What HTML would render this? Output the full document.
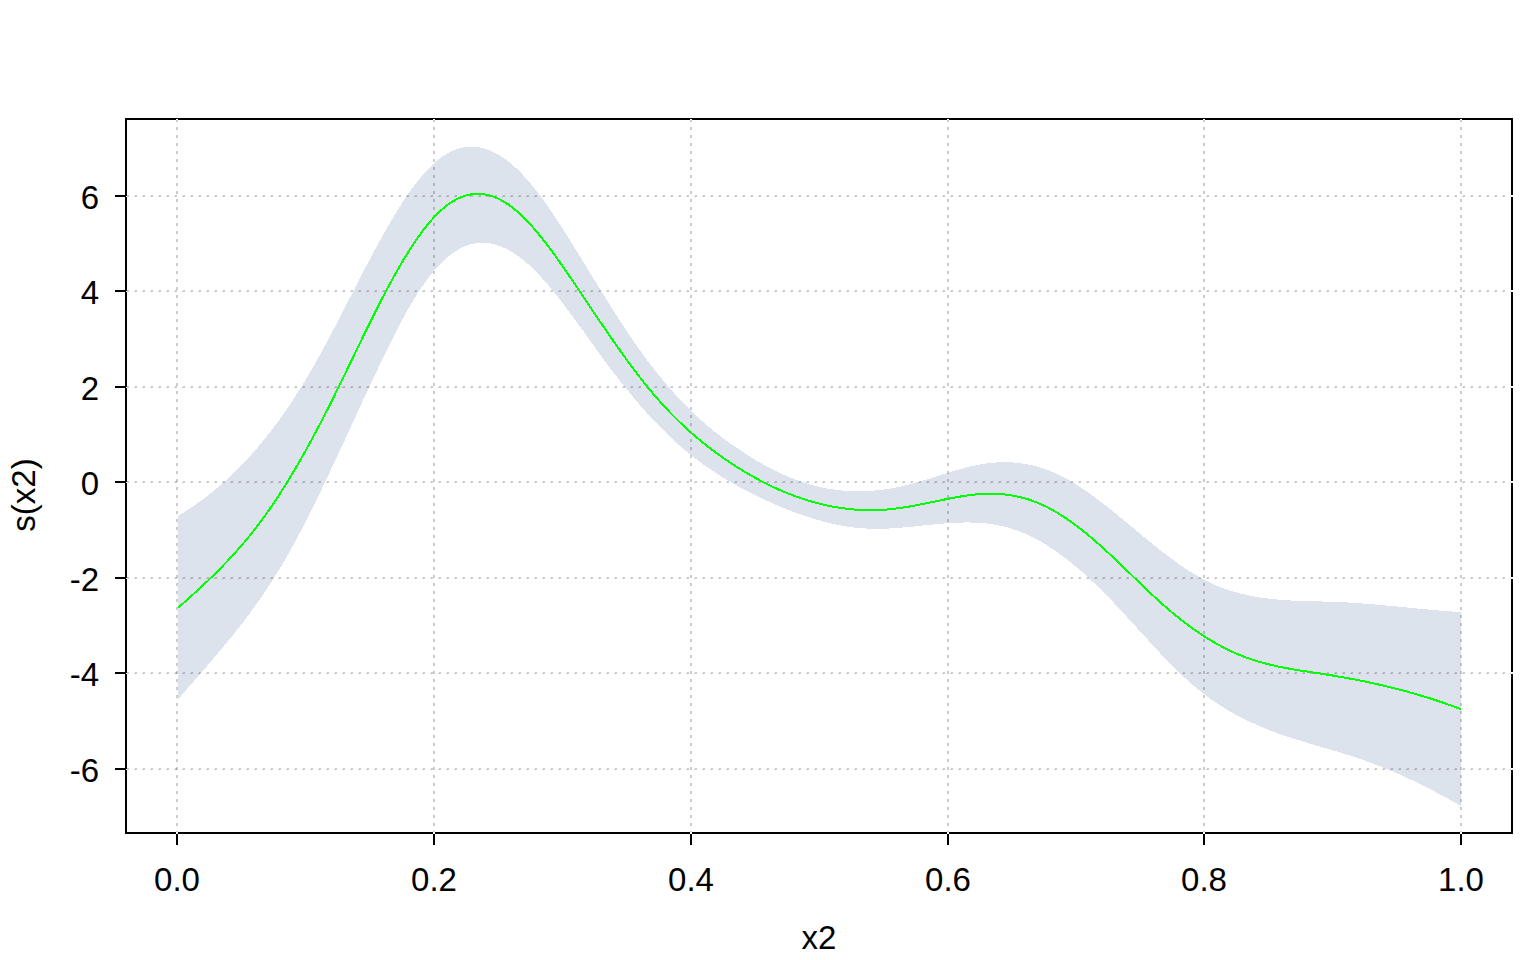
<!DOCTYPE html>
<html><head><meta charset="utf-8"><title>s(x2)</title>
<style>
html,body{margin:0;padding:0;background:#fff;}
svg{display:block;}
text{font-family:"Liberation Sans",sans-serif;font-size:33px;fill:#000;}
</style></head><body>
<svg width="1536" height="960" viewBox="0 0 1536 960">
<rect width="1536" height="960" fill="#fff"/>
<polygon points="178,516 181,514.16 184,512.29 187,510.36 190,508.38 193,506.35 196,504.26 199,502.12 202,499.93 205,497.67 208,495.36 211,492.99 214,490.56 217,488.06 220,485.5 223,482.88 226,480.19 229,477.43 232,474.6 235,471.7 238,468.73 241,465.69 244,462.57 247,459.37 250,456.1 253,452.75 256,449.32 259,445.81 262,442.21 265,438.53 268,434.77 271,430.92 274,426.98 277,422.95 280,418.83 283,414.62 286,410.32 289,405.92 292,401.43 295,396.84 298,392.15 301,387.36 304,382.47 307,377.48 310,372.38 313,367.18 316,361.88 319,356.49 322,351.02 325,345.48 328,339.87 331,334.21 334,328.49 337,322.74 340,316.95 343,311.13 346,305.3 349,299.46 352,293.61 355,287.77 358,281.95 361,276.14 364,270.37 367,264.64 370,258.95 373,253.31 376,247.74 379,242.23 382,236.81 385,231.47 388,226.22 391,221.07 394,216.04 397,211.12 400,206.33 403,201.67 406,197.15 409,192.78 412,188.57 415,184.52 418,180.65 421,176.95 424,173.45 427,170.14 430,167.04 433,164.15 436,161.48 439,159.04 442,156.83 445,154.83 448,153.06 451,151.51 454,150.18 457,149.07 460,148.16 463,147.47 466,146.99 469,146.72 472,146.65 475,146.79 478,147.13 481,147.66 484,148.4 487,149.33 490,150.45 493,151.76 496,153.27 499,154.96 502,156.83 505,158.89 508,161.13 511,163.55 514,166.15 517,168.92 520,171.86 523,174.97 526,178.25 529,181.69 532,185.28 535,189.01 538,192.87 541,196.86 544,200.97 547,205.19 550,209.51 553,213.92 556,218.41 559,222.99 562,227.63 565,232.34 568,237.09 571,241.89 574,246.73 577,251.6 580,256.49 583,261.39 586,266.29 589,271.2 592,276.1 595,281 598,285.88 601,290.75 604,295.59 607,300.41 610,305.2 613,309.95 616,314.66 619,319.33 622,323.95 625,328.51 628,333.02 631,337.46 634,341.83 637,346.14 640,350.37 643,354.52 646,358.6 649,362.6 652,366.53 655,370.38 658,374.16 661,377.86 664,381.49 667,385.05 670,388.52 673,391.93 676,395.26 679,398.51 682,401.69 685,404.79 688,407.82 691,410.78 694,413.66 697,416.47 700,419.21 703,421.89 706,424.5 709,427.05 712,429.54 715,431.97 718,434.34 721,436.66 724,438.92 727,441.13 730,443.3 733,445.41 736,447.48 739,449.51 742,451.5 745,453.45 748,455.35 751,457.22 754,459.05 757,460.83 760,462.56 763,464.26 766,465.91 769,467.51 772,469.07 775,470.58 778,472.04 781,473.45 784,474.81 787,476.12 790,477.38 793,478.59 796,479.74 799,480.85 802,481.89 805,482.88 808,483.82 811,484.7 814,485.52 817,486.28 820,486.99 823,487.64 826,488.24 829,488.78 832,489.27 835,489.7 838,490.08 841,490.41 844,490.68 847,490.9 850,491.07 853,491.19 856,491.26 859,491.27 862,491.24 865,491.16 868,491.03 871,490.85 874,490.62 877,490.34 880,490.02 883,489.65 886,489.23 889,488.77 892,488.26 895,487.71 898,487.11 901,486.47 904,485.79 907,485.06 910,484.29 913,483.49 916,482.65 919,481.79 922,480.9 925,479.99 928,479.06 931,478.13 934,477.18 937,476.23 940,475.28 943,474.33 946,473.39 949,472.46 952,471.55 955,470.65 958,469.78 961,468.94 964,468.13 967,467.35 970,466.61 973,465.92 976,465.27 979,464.68 982,464.14 985,463.66 988,463.24 991,462.89 994,462.61 997,462.4 1000,462.25 1003,462.18 1006,462.18 1009,462.26 1012,462.4 1015,462.62 1018,462.92 1021,463.29 1024,463.74 1027,464.26 1030,464.86 1033,465.55 1036,466.31 1039,467.15 1042,468.08 1045,469.09 1048,470.18 1051,471.35 1054,472.61 1057,473.96 1060,475.39 1063,476.91 1066,478.51 1069,480.19 1072,481.94 1075,483.76 1078,485.65 1081,487.6 1084,489.61 1087,491.68 1090,493.8 1093,495.98 1096,498.19 1099,500.45 1102,502.75 1105,505.08 1108,507.44 1111,509.83 1114,512.25 1117,514.69 1120,517.14 1123,519.61 1126,522.09 1129,524.58 1132,527.07 1135,529.56 1138,532.05 1141,534.54 1144,537.02 1147,539.48 1150,541.93 1153,544.36 1156,546.77 1159,549.16 1162,551.51 1165,553.83 1168,556.12 1171,558.37 1174,560.58 1177,562.74 1180,564.86 1183,566.92 1186,568.93 1189,570.88 1192,572.77 1195,574.59 1198,576.34 1201,578.02 1204,579.63 1207,581.16 1210,582.62 1213,583.99 1216,585.3 1219,586.54 1222,587.71 1225,588.81 1228,589.85 1231,590.82 1234,591.74 1237,592.59 1240,593.4 1243,594.14 1246,594.84 1249,595.49 1252,596.09 1255,596.64 1258,597.15 1261,597.62 1264,598.05 1267,598.44 1270,598.8 1273,599.12 1276,599.41 1279,599.68 1282,599.92 1285,600.13 1288,600.32 1291,600.49 1294,600.64 1297,600.77 1300,600.89 1303,601 1306,601.09 1309,601.18 1312,601.26 1315,601.34 1318,601.42 1321,601.49 1324,601.57 1327,601.65 1330,601.74 1333,601.84 1336,601.94 1339,602.06 1342,602.19 1345,602.34 1348,602.51 1351,602.68 1354,602.87 1357,603.07 1360,603.28 1363,603.5 1366,603.73 1369,603.97 1372,604.22 1375,604.48 1378,604.74 1381,605.01 1384,605.29 1387,605.57 1390,605.86 1393,606.14 1396,606.44 1399,606.73 1402,607.02 1405,607.32 1408,607.62 1411,607.91 1414,608.2 1417,608.5 1420,608.78 1423,609.07 1426,609.35 1429,609.63 1432,609.9 1435,610.16 1438,610.42 1441,610.67 1444,610.91 1447,611.14 1450,611.37 1453,611.58 1456,611.78 1459,611.97 1461,612.09 1461,806.05 1459,804.91 1456,803.2 1453,801.51 1450,799.84 1447,798.18 1444,796.54 1441,794.93 1438,793.32 1435,791.74 1432,790.18 1429,788.63 1426,787.11 1423,785.6 1420,784.11 1417,782.64 1414,781.2 1411,779.77 1408,778.37 1405,776.98 1402,775.62 1399,774.28 1396,772.96 1393,771.66 1390,770.38 1387,769.13 1384,767.9 1381,766.69 1378,765.51 1375,764.35 1372,763.21 1369,762.1 1366,761.01 1363,759.95 1360,758.91 1357,757.89 1354,756.9 1351,755.93 1348,754.97 1345,754.04 1342,753.11 1339,752.2 1336,751.3 1333,750.41 1330,749.52 1327,748.64 1324,747.77 1321,746.89 1318,746.02 1315,745.14 1312,744.26 1309,743.37 1306,742.47 1303,741.56 1300,740.65 1297,739.71 1294,738.77 1291,737.8 1288,736.82 1285,735.81 1282,734.78 1279,733.73 1276,732.64 1273,731.53 1270,730.39 1267,729.22 1264,728.02 1261,726.77 1258,725.49 1255,724.17 1252,722.81 1249,721.41 1246,719.96 1243,718.47 1240,716.93 1237,715.34 1234,713.69 1231,712 1228,710.24 1225,708.43 1222,706.57 1219,704.64 1216,702.64 1213,700.59 1210,698.47 1207,696.28 1204,694.02 1201,691.69 1198,689.29 1195,686.81 1192,684.25 1189,681.62 1186,678.91 1183,676.13 1180,673.29 1177,670.39 1174,667.42 1171,664.41 1168,661.35 1165,658.24 1162,655.1 1159,651.92 1156,648.71 1153,645.47 1150,642.21 1147,638.93 1144,635.64 1141,632.35 1138,629.05 1135,625.74 1132,622.45 1129,619.16 1126,615.89 1123,612.63 1120,609.4 1117,606.19 1114,603.02 1111,599.88 1108,596.78 1105,593.72 1102,590.71 1099,587.75 1096,584.84 1093,581.97 1090,579.16 1087,576.4 1084,573.69 1081,571.04 1078,568.45 1075,565.91 1072,563.44 1069,561.02 1066,558.67 1063,556.39 1060,554.16 1057,552.01 1054,549.92 1051,547.91 1048,545.96 1045,544.09 1042,542.3 1039,540.57 1036,538.93 1033,537.36 1030,535.88 1027,534.47 1024,533.15 1021,531.91 1018,530.76 1015,529.7 1012,528.72 1009,527.82 1006,527.01 1003,526.27 1000,525.61 997,525.02 994,524.5 991,524.05 988,523.66 985,523.33 982,523.06 979,522.85 976,522.69 973,522.57 970,522.51 967,522.49 964,522.51 961,522.57 958,522.67 955,522.8 952,522.96 949,523.15 946,523.36 943,523.6 940,523.86 937,524.13 934,524.41 931,524.71 928,525.02 925,525.33 922,525.64 919,525.96 916,526.27 913,526.57 910,526.87 907,527.16 904,527.43 901,527.69 898,527.92 895,528.14 892,528.33 889,528.49 886,528.62 883,528.72 880,528.78 877,528.8 874,528.78 871,528.72 868,528.61 865,528.45 862,528.24 859,527.98 856,527.68 853,527.33 850,526.93 847,526.49 844,526 841,525.47 838,524.9 835,524.28 832,523.63 829,522.93 826,522.2 823,521.42 820,520.61 817,519.76 814,518.87 811,517.95 808,516.99 805,516 802,514.98 799,513.92 796,512.83 793,511.71 790,510.56 787,509.37 784,508.16 781,506.93 778,505.66 775,504.37 772,503.05 769,501.71 766,500.34 763,498.95 760,497.53 757,496.09 754,494.62 751,493.13 748,491.61 745,490.05 742,488.46 739,486.84 736,485.18 733,483.49 730,481.76 727,479.99 724,478.17 721,476.32 718,474.42 715,472.47 712,470.48 709,468.43 706,466.34 703,464.2 700,462 697,459.75 694,457.45 691,455.08 688,452.66 685,450.18 682,447.63 679,445.02 676,442.35 673,439.61 670,436.8 667,433.93 664,430.99 661,427.98 658,424.91 655,421.77 652,418.58 649,415.32 646,412 643,408.62 640,405.19 637,401.7 634,398.15 631,394.55 628,390.89 625,387.19 622,383.43 619,379.62 616,375.76 613,371.86 610,367.9 607,363.9 604,359.86 601,355.77 598,351.65 595,347.5 592,343.33 589,339.15 586,334.97 583,330.78 580,326.61 577,322.46 574,318.34 571,314.24 568,310.19 565,306.2 562,302.25 559,298.38 556,294.58 553,290.85 550,287.22 547,283.68 544,280.25 541,276.93 538,273.73 535,270.66 532,267.72 529,264.93 526,262.28 523,259.79 520,257.45 517,255.27 514,253.26 511,251.41 508,249.73 505,248.22 502,246.89 499,245.74 496,244.77 493,243.98 490,243.38 487,242.98 484,242.77 481,242.76 478,242.96 475,243.35 472,243.96 469,244.78 466,245.81 463,247.06 460,248.54 457,250.24 454,252.17 451,254.33 448,256.72 445,259.35 442,262.2 439,265.28 436,268.58 433,272.09 430,275.8 427,279.72 424,283.84 421,288.16 418,292.69 415,297.43 412,302.39 409,307.57 406,312.94 403,318.49 400,324.18 397,329.99 394,335.9 391,341.88 388,347.93 385,354.05 382,360.23 379,366.46 376,372.75 373,379.08 370,385.45 367,391.86 364,398.31 361,404.78 358,411.27 355,417.77 352,424.29 349,430.8 346,437.31 343,443.81 340,450.3 337,456.76 334,463.19 331,469.59 328,475.95 325,482.27 322,488.54 319,494.76 316,500.92 313,507.02 310,513.05 307,519 304,524.87 301,530.65 298,536.34 295,541.92 292,547.39 289,552.74 286,557.98 283,563.1 280,568.1 277,573 274,577.8 271,582.49 268,587.09 265,591.6 262,596.01 259,600.34 256,604.6 253,608.77 250,612.87 247,616.9 244,620.87 241,624.78 238,628.62 235,632.42 232,636.16 229,639.86 226,643.52 223,647.14 220,650.73 217,654.28 214,657.81 211,661.32 208,664.81 205,668.28 202,671.75 199,675.2 196,678.66 193,682.11 190,685.57 187,689.04 184,692.52 181,696.02 178,699.54" fill="#DCE3ED" shape-rendering="crispEdges"/>
<rect x="125" y="118" width="1388" height="2" fill="#000"/>
<rect x="125" y="832" width="1388" height="2" fill="#000"/>
<rect x="125" y="118" width="2" height="716" fill="#000"/>
<rect x="1511" y="118" width="2" height="716" fill="#000"/>
<rect x="176" y="834" width="2" height="11" fill="#000"/>
<rect x="433" y="834" width="2" height="11" fill="#000"/>
<rect x="690" y="834" width="2" height="11" fill="#000"/>
<rect x="947" y="834" width="2" height="11" fill="#000"/>
<rect x="1203" y="834" width="2" height="11" fill="#000"/>
<rect x="1460" y="834" width="2" height="11" fill="#000"/>
<rect x="115" y="195" width="10" height="2" fill="#000"/>
<rect x="115" y="290" width="10" height="2" fill="#000"/>
<rect x="115" y="386" width="10" height="2" fill="#000"/>
<rect x="115" y="481" width="10" height="2" fill="#000"/>
<rect x="115" y="577" width="10" height="2" fill="#000"/>
<rect x="115" y="672" width="10" height="2" fill="#000"/>
<rect x="115" y="768" width="10" height="2" fill="#000"/>
<line x1="177" y1="834" x2="177" y2="118" stroke="rgba(0,0,0,0.2)" stroke-width="2" stroke-dasharray="3 5" shape-rendering="crispEdges"/>
<line x1="434" y1="834" x2="434" y2="118" stroke="rgba(0,0,0,0.2)" stroke-width="2" stroke-dasharray="3 5" shape-rendering="crispEdges"/>
<line x1="691" y1="834" x2="691" y2="118" stroke="rgba(0,0,0,0.2)" stroke-width="2" stroke-dasharray="3 5" shape-rendering="crispEdges"/>
<line x1="948" y1="834" x2="948" y2="118" stroke="rgba(0,0,0,0.2)" stroke-width="2" stroke-dasharray="3 5" shape-rendering="crispEdges"/>
<line x1="1204" y1="834" x2="1204" y2="118" stroke="rgba(0,0,0,0.2)" stroke-width="2" stroke-dasharray="3 5" shape-rendering="crispEdges"/>
<line x1="1461" y1="834" x2="1461" y2="118" stroke="rgba(0,0,0,0.2)" stroke-width="2" stroke-dasharray="3 5" shape-rendering="crispEdges"/>
<line x1="127" y1="195.5" x2="1513" y2="195.5" stroke="rgba(0,0,0,0.2)" stroke-width="1" stroke-dasharray="2 6" shape-rendering="crispEdges"/>
<line x1="126" y1="196.5" x2="1513" y2="196.5" stroke="rgba(0,0,0,0.2)" stroke-width="1" stroke-dasharray="3 5" shape-rendering="crispEdges"/>
<line x1="127" y1="290.5" x2="1513" y2="290.5" stroke="rgba(0,0,0,0.2)" stroke-width="1" stroke-dasharray="2 6" shape-rendering="crispEdges"/>
<line x1="126" y1="291.5" x2="1513" y2="291.5" stroke="rgba(0,0,0,0.2)" stroke-width="1" stroke-dasharray="3 5" shape-rendering="crispEdges"/>
<line x1="127" y1="386.5" x2="1513" y2="386.5" stroke="rgba(0,0,0,0.2)" stroke-width="1" stroke-dasharray="2 6" shape-rendering="crispEdges"/>
<line x1="126" y1="387.5" x2="1513" y2="387.5" stroke="rgba(0,0,0,0.2)" stroke-width="1" stroke-dasharray="3 5" shape-rendering="crispEdges"/>
<line x1="127" y1="481.5" x2="1513" y2="481.5" stroke="rgba(0,0,0,0.2)" stroke-width="1" stroke-dasharray="2 6" shape-rendering="crispEdges"/>
<line x1="126" y1="482.5" x2="1513" y2="482.5" stroke="rgba(0,0,0,0.2)" stroke-width="1" stroke-dasharray="3 5" shape-rendering="crispEdges"/>
<line x1="127" y1="577.5" x2="1513" y2="577.5" stroke="rgba(0,0,0,0.2)" stroke-width="1" stroke-dasharray="2 6" shape-rendering="crispEdges"/>
<line x1="126" y1="578.5" x2="1513" y2="578.5" stroke="rgba(0,0,0,0.2)" stroke-width="1" stroke-dasharray="3 5" shape-rendering="crispEdges"/>
<line x1="127" y1="672.5" x2="1513" y2="672.5" stroke="rgba(0,0,0,0.2)" stroke-width="1" stroke-dasharray="2 6" shape-rendering="crispEdges"/>
<line x1="126" y1="673.5" x2="1513" y2="673.5" stroke="rgba(0,0,0,0.2)" stroke-width="1" stroke-dasharray="3 5" shape-rendering="crispEdges"/>
<line x1="127" y1="768.5" x2="1513" y2="768.5" stroke="rgba(0,0,0,0.2)" stroke-width="1" stroke-dasharray="2 6" shape-rendering="crispEdges"/>
<line x1="126" y1="769.5" x2="1513" y2="769.5" stroke="rgba(0,0,0,0.2)" stroke-width="1" stroke-dasharray="3 5" shape-rendering="crispEdges"/>
<rect x="176" y="119" width="2" height="1" fill="#fff"/>
<rect x="176" y="832" width="2" height="2" fill="#fff"/>
<rect x="433" y="119" width="2" height="1" fill="#fff"/>
<rect x="433" y="832" width="2" height="2" fill="#fff"/>
<rect x="690" y="119" width="2" height="1" fill="#fff"/>
<rect x="690" y="832" width="2" height="2" fill="#fff"/>
<rect x="947" y="119" width="2" height="1" fill="#fff"/>
<rect x="947" y="832" width="2" height="2" fill="#fff"/>
<rect x="1203" y="119" width="2" height="1" fill="#fff"/>
<rect x="1203" y="832" width="2" height="2" fill="#fff"/>
<rect x="1460" y="119" width="2" height="1" fill="#fff"/>
<rect x="1460" y="832" width="2" height="2" fill="#fff"/>
<rect x="126" y="196" width="1" height="1" fill="#fff"/>
<rect x="1511" y="195" width="2" height="2" fill="#fff"/>
<rect x="126" y="291" width="1" height="1" fill="#fff"/>
<rect x="1511" y="290" width="2" height="2" fill="#fff"/>
<rect x="126" y="387" width="1" height="1" fill="#fff"/>
<rect x="1511" y="386" width="2" height="2" fill="#fff"/>
<rect x="126" y="482" width="1" height="1" fill="#fff"/>
<rect x="1511" y="481" width="2" height="2" fill="#fff"/>
<rect x="126" y="578" width="1" height="1" fill="#fff"/>
<rect x="1511" y="577" width="2" height="2" fill="#fff"/>
<rect x="126" y="673" width="1" height="1" fill="#fff"/>
<rect x="1511" y="672" width="2" height="2" fill="#fff"/>
<rect x="126" y="769" width="1" height="1" fill="#fff"/>
<rect x="1511" y="768" width="2" height="2" fill="#fff"/>
<polyline points="178,607.91 181,605.23 184,602.55 187,599.86 190,597.15 193,594.43 196,591.7 199,588.93 202,586.15 205,583.33 208,580.49 211,577.6 214,574.68 217,571.71 220,568.7 223,565.64 226,562.52 229,559.35 232,556.12 235,552.83 238,549.46 241,546.03 244,542.53 247,538.95 250,535.28 253,531.54 256,527.7 259,523.78 262,519.76 265,515.65 268,511.43 271,507.11 274,502.7 277,498.18 280,493.57 283,488.87 286,484.08 289,479.19 292,474.22 295,469.16 298,464.02 301,458.79 304,453.48 307,448.1 310,442.63 313,437.09 316,431.48 319,425.79 322,420.03 325,414.21 328,408.31 331,402.36 334,396.34 337,390.27 340,384.15 343,378 346,371.83 349,365.63 352,359.43 355,353.22 358,347.02 361,340.84 364,334.68 367,328.55 370,322.46 373,316.43 376,310.45 379,304.54 382,298.7 385,292.94 388,287.28 391,281.72 394,276.26 397,270.92 400,265.7 403,260.61 406,255.65 409,250.84 412,246.17 415,241.67 418,237.33 421,233.16 424,229.17 427,225.37 430,221.76 433,218.35 436,215.15 439,212.17 442,209.41 445,206.88 448,204.58 451,202.5 454,200.66 457,199.04 460,197.64 463,196.47 466,195.51 469,194.78 472,194.26 475,193.95 478,193.86 481,193.99 484,194.32 487,194.86 490,195.61 493,196.56 496,197.72 499,199.07 502,200.63 505,202.39 508,204.35 511,206.49 514,208.83 517,211.35 520,214.04 523,216.89 526,219.9 529,223.06 532,226.36 535,229.79 538,233.35 541,237.02 544,240.8 547,244.69 550,248.66 553,252.72 556,256.86 559,261.07 562,265.34 565,269.66 568,274.03 571,278.44 574,282.87 577,287.33 580,291.8 583,296.28 586,300.76 589,305.23 592,309.7 595,314.16 598,318.6 601,323.03 604,327.44 607,331.82 610,336.18 613,340.5 616,344.79 619,349.05 622,353.26 625,357.43 628,361.55 631,365.62 634,369.63 637,373.59 640,377.49 643,381.32 646,385.08 649,388.77 652,392.39 655,395.93 658,399.38 661,402.76 664,406.06 667,409.29 670,412.44 673,415.52 676,418.53 679,421.47 682,424.34 685,427.15 688,429.9 691,432.58 694,435.2 697,437.76 700,440.26 703,442.71 706,445.1 709,447.44 712,449.73 715,451.97 718,454.16 721,456.31 724,458.41 727,460.47 730,462.49 733,464.47 736,466.4 739,468.3 742,470.16 745,471.97 748,473.74 751,475.48 754,477.17 757,478.82 760,480.43 763,481.99 766,483.52 769,485 772,486.45 775,487.85 778,489.21 781,490.53 784,491.8 787,493.04 790,494.23 793,495.38 796,496.48 799,497.55 802,498.57 805,499.55 808,500.49 811,501.39 814,502.24 817,503.05 820,503.82 823,504.54 826,505.23 829,505.87 832,506.46 835,507.01 838,507.52 841,507.99 844,508.41 847,508.79 850,509.12 853,509.41 856,509.65 859,509.85 862,510 865,510.11 868,510.17 871,510.19 874,510.16 877,510.09 880,509.97 883,509.8 886,509.58 889,509.32 892,509.02 895,508.67 898,508.28 901,507.86 904,507.41 907,506.93 910,506.42 913,505.88 916,505.32 919,504.75 922,504.16 925,503.55 928,502.94 931,502.32 934,501.69 937,501.06 940,500.44 943,499.82 946,499.21 949,498.61 952,498.03 955,497.47 958,496.94 961,496.43 964,495.95 967,495.51 970,495.11 973,494.75 976,494.44 979,494.18 982,493.97 985,493.82 988,493.73 991,493.7 994,493.74 997,493.85 1000,494.03 1003,494.28 1006,494.6 1009,495 1012,495.47 1015,496.02 1018,496.65 1021,497.36 1024,498.15 1027,499.03 1030,499.99 1033,501.03 1036,502.17 1039,503.39 1042,504.71 1045,506.12 1048,507.61 1051,509.2 1054,510.87 1057,512.62 1060,514.46 1063,516.37 1066,518.35 1069,520.41 1072,522.53 1075,524.73 1078,526.99 1081,529.31 1084,531.69 1087,534.13 1090,536.62 1093,539.16 1096,541.76 1099,544.4 1102,547.09 1105,549.81 1108,552.58 1111,555.37 1114,558.2 1117,561.05 1120,563.92 1123,566.8 1126,569.7 1129,572.6 1132,575.51 1135,578.41 1138,581.31 1141,584.2 1144,587.07 1147,589.93 1150,592.76 1153,595.57 1156,598.34 1159,601.08 1162,603.77 1165,606.42 1168,609.03 1171,611.58 1174,614.08 1177,616.53 1180,618.92 1183,621.26 1186,623.55 1189,625.79 1192,627.97 1195,630.09 1198,632.16 1201,634.18 1204,636.14 1207,638.04 1210,639.88 1213,641.67 1216,643.4 1219,645.07 1222,646.69 1225,648.24 1228,649.74 1231,651.18 1234,652.55 1237,653.87 1240,655.12 1243,656.32 1246,657.45 1249,658.52 1252,659.54 1255,660.51 1258,661.43 1261,662.3 1264,663.12 1267,663.9 1270,664.65 1273,665.35 1276,666.02 1279,666.66 1282,667.27 1285,667.85 1288,668.41 1291,668.94 1294,669.46 1297,669.96 1300,670.45 1303,670.92 1306,671.39 1309,671.85 1312,672.3 1315,672.76 1318,673.21 1321,673.67 1324,674.14 1327,674.62 1330,675.1 1333,675.6 1336,676.1 1339,676.62 1342,677.14 1345,677.68 1348,678.23 1351,678.79 1354,679.36 1357,679.94 1360,680.53 1363,681.14 1366,681.76 1369,682.39 1372,683.04 1375,683.7 1378,684.37 1381,685.05 1384,685.75 1387,686.46 1390,687.19 1393,687.93 1396,688.69 1399,689.46 1402,690.25 1405,691.05 1408,691.87 1411,692.71 1414,693.56 1417,694.43 1420,695.31 1423,696.22 1426,697.14 1429,698.07 1432,699.03 1435,700 1438,700.99 1441,702 1444,703.03 1447,704.08 1450,705.14 1453,706.23 1456,707.33 1459,708.46 1461,709.22" fill="none" stroke="#00FF00" stroke-width="2" stroke-linejoin="round" shape-rendering="crispEdges"/>
<text x="177" y="891" text-anchor="middle">0.0</text>
<text x="434" y="891" text-anchor="middle">0.2</text>
<text x="691" y="891" text-anchor="middle">0.4</text>
<text x="948" y="891" text-anchor="middle">0.6</text>
<text x="1204" y="891" text-anchor="middle">0.8</text>
<text x="1461" y="891" text-anchor="middle">1.0</text>
<text x="99" y="209" text-anchor="end">6</text>
<text x="99" y="304" text-anchor="end">4</text>
<text x="99" y="400" text-anchor="end">2</text>
<text x="99" y="495" text-anchor="end">0</text>
<text x="99" y="591" text-anchor="end">-2</text>
<text x="99" y="686" text-anchor="end">-4</text>
<text x="99" y="782" text-anchor="end">-6</text>
<text x="819" y="949" text-anchor="middle">x2</text>
<text transform="translate(35,495) rotate(-90)" text-anchor="middle">s(x2)</text>
</svg>
</body></html>
